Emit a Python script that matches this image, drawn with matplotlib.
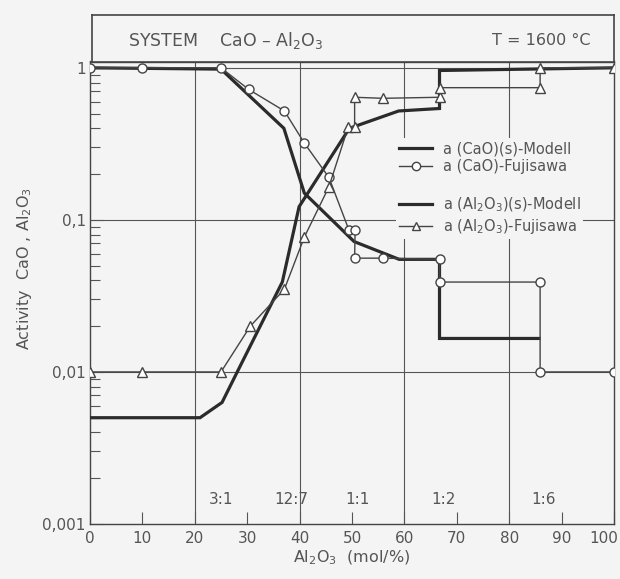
import numpy as np
import matplotlib
matplotlib.use("Agg")
import matplotlib.pyplot as plt
import matplotlib.transforms as mtransforms
from matplotlib.lines import Line2D

# Data (x = Al2O3 in mol-%, y = activity)
x_cao_model = [0, 25, 37.0, 40.9, 50.4, 59.0, 66.7, 66.7, 85.7]
a_cao_model = [1.0, 0.98, 0.40, 0.15, 0.072, 0.055, 0.055, 0.0166, 0.0166]

x_cao_fuji = [0, 10, 25, 30.3, 37.1, 40.9, 45.6, 49.4, 50.6, 50.5, 55.9, 66.7, 66.7, 85.9, 85.9, 100]
a_cao_fuji = [1.0, 1.0, 1.0, 0.72, 0.52, 0.32, 0.19, 0.086, 0.086, 0.056, 0.056, 0.055, 0.039, 0.039, 0.01, 0.01]

x_al_model = [0, 21.0, 25.2, 28.1, 36.7, 39.9, 49.5, 58.9, 66.7, 66.7, 100]
a_al_model = [0.005, 0.005, 0.0063, 0.01, 0.039, 0.122, 0.40, 0.52, 0.54, 0.96, 1.0]

x_al_fuji = [0, 10, 25, 30.6, 37.1, 40.9, 45.6, 49.3, 50.5, 50.5, 55.9, 66.7, 66.7, 85.9, 85.9, 100]
a_al_fuji = [0.01, 0.01, 0.01, 0.020, 0.035, 0.077, 0.165, 0.41, 0.41, 0.64, 0.63, 0.64, 0.74, 0.74, 1.0, 1.0]

compound_x = [25, 38.5, 51, 67.5, 86.5]
compound_labels = ["3:1", "12:7", "1:1", "1:2", "1:6"]

bg = "#f4f4f4"
ink = "#2b2b2b"
txt = "#555555"

plt.rcParams["font.family"] = ["DejaVu Sans"]

W, H = 620, 579
fig = plt.figure(figsize=(W / 100, H / 100), dpi=100, facecolor=bg)

# main axes in pixel coords of the reference
left, right, top, bottom = 90, 614, 61.5, 524
ax = fig.add_axes([left / W, 1 - bottom / H, (right - left) / W, (bottom - top) / H])
ax.set_facecolor(bg)
ax.set_yscale("log")
ax.set_xlim(0, 100)
ax.set_ylim(0.001, 1.10)

# grid
for gx in [20, 40, 60, 80]:
    ax.axvline(gx, color="#555555", lw=0.8, zorder=1)
for gy in [0.01, 0.1, 1.0]:
    ax.axhline(gy, color="#555555", lw=0.8, zorder=1)

# curves
ax.plot(x_cao_model, a_cao_model, color=ink, lw=2.3, solid_joinstyle="miter", zorder=3)
ax.plot(x_al_model, a_al_model, color=ink, lw=2.3, solid_joinstyle="miter", zorder=3)
ax.plot(x_cao_fuji, a_cao_fuji, color="#444444", lw=1.0, marker="o", ms=6.5,
        mfc="white", mec="#444444", mew=1.0, zorder=4)
ax.plot(x_al_fuji, a_al_fuji, color="#444444", lw=1.0, marker="^", ms=7,
        mfc="white", mec="#444444", mew=1.0, zorder=4)

# ticks
ax.set_xticks(np.arange(0, 101, 10))
ax.tick_params(axis="x", direction="in", length=9, width=0.8, color="#555555",
               labelsize=11, labelcolor=txt, pad=5)
# last label is cut by the edge in the original; nudge it inside
last = ax.get_xticklabels()[-1]
last.set_transform(last.get_transform() +
                   mtransforms.ScaledTranslation(-10 / 100, 0, fig.dpi_scale_trans))
ax.set_yticks([0.001, 0.01, 0.1, 1.0], ["0,001", "0,01", "0,1", "1"])
ax.tick_params(axis="y", which="major", direction="in", length=9, width=0.8,
               color="#555555", labelsize=11, labelcolor=txt, pad=3)
ax.tick_params(axis="y", which="minor", direction="in", length=7, width=0.8,
               color="#555555")
ax.tick_params(axis="x", which="minor", bottom=False)
ax.yaxis.set_minor_formatter(plt.NullFormatter())
for sp in ax.spines.values():
    sp.set_color("#444444")
    sp.set_linewidth(1.0)

# compound labels
for cx, cl in zip(compound_x, compound_labels):
    ax.text(cx, 0.052, cl, transform=ax.get_xaxis_transform(), ha="center",
            va="center", fontsize=11, color=txt, zorder=5)

# legend
h_model = Line2D([], [], color=ink, lw=2.3)
h_cao = Line2D([], [], color="#444444", lw=1.0, marker="o", ms=6, mfc="white", mec="#444444")
h_al = Line2D([], [], color="#444444", lw=1.0, marker="^", ms=6, mfc="white", mec="#444444")
h_blank = Line2D([], [], color="none")
leg = ax.legend([h_model, h_cao, h_blank, h_model, h_al],
                ["a (CaO)(s)-Modell", "a (CaO)-Fujisawa", "",
                 r"a (Al$_2$O$_3$)(s)-Modell", r"a (Al$_2$O$_3$)-Fujisawa"],
                loc="upper left", bbox_to_anchor=(0.57, 0.85), fontsize=10.5,
                frameon=True, facecolor=bg, edgecolor="none", framealpha=1,
                handlelength=2.3, handletextpad=0.7, labelspacing=0.22,
                borderpad=0.2, labelcolor=txt)
leg.set_zorder(6)

ax.set_xlabel(r"Al$_2$O$_3$  (mol/%)", fontsize=11.5, color=txt, labelpad=2)
fig.text(25 / W, 1 - 268 / H, r"Activity  CaO , Al$_2$O$_3$", rotation=90,
         ha="center", va="center", fontsize=11.5, color=txt)

# title box above the axes
tb = fig.add_axes([92 / W, 1 - 61.5 / H, (614 - 92) / W, (61.5 - 15) / H])
tb.set_facecolor(bg)
tb.set_xticks([])
tb.set_yticks([])
for sp in tb.spines.values():
    sp.set_color("#444444")
    sp.set_linewidth(1.2)
tb.text(0.069, 0.45, r"SYSTEM    CaO – Al$_2$O$_3$", transform=tb.transAxes,
        ha="left", va="center", fontsize=12.5, color=txt)
tb.text(0.955, 0.45, "T = 1600 °C", transform=tb.transAxes,
        ha="right", va="center", fontsize=11.5, color=txt)

fig.savefig("out.png", dpi=100, facecolor=bg)
